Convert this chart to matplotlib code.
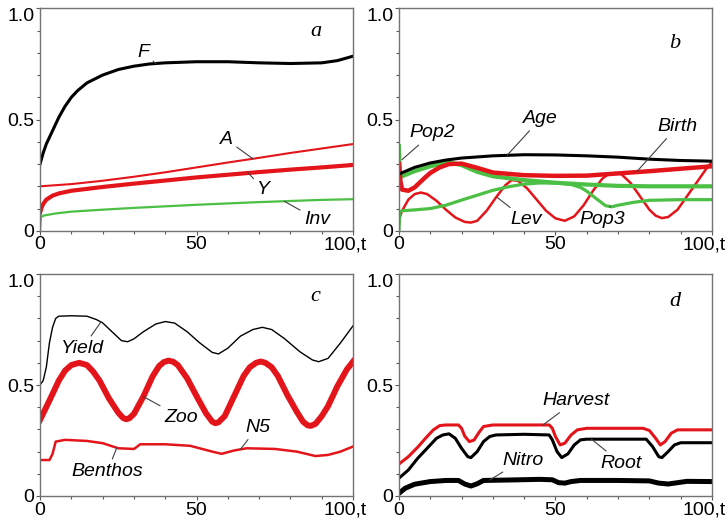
"""
Four-panel model output: a) F, A, Y, Inv; b) population; c) plankton; d) crop.
"""
import matplotlib.pyplot as plt
from matplotlib.ticker import MultipleLocator
from matplotlib.transforms import ScaledTranslation

plt.rcParams['font.family'] = ['Liberation Sans', 'DejaVu Sans']

RED = '#e3151b'
GREEN = '#4cbf45'
BLACK = '#000000'

# ---- panel a ----
t_F = [0, 1, 2, 4, 6, 8, 10, 12, 15, 20, 25, 30, 35, 40, 50, 60, 70, 80, 90, 95, 100]
F = [0.30, 0.35, 0.39, 0.45, 0.51, 0.56, 0.60, 0.63, 0.665, 0.70, 0.725, 0.74, 0.75, 0.755,
     0.76, 0.76, 0.755, 0.752, 0.755, 0.765, 0.785]
t_A = [0, 10, 20, 30, 40, 50, 60, 70, 80, 90, 100]
A = [0.20, 0.21, 0.225, 0.243, 0.263, 0.285, 0.307, 0.328, 0.35, 0.37, 0.39]
t_Y = [0, 0.5, 1, 2, 4, 6, 10, 20, 30, 40, 50, 60, 70, 80, 90, 100]
Y = [0.08, 0.105, 0.12, 0.14, 0.158, 0.168, 0.18, 0.197, 0.212, 0.226, 0.24, 0.252, 0.264,
     0.275, 0.285, 0.296]
t_Inv = [0, 0.3, 1, 5, 10, 20, 30, 40, 50, 60, 70, 80, 90, 100]
Inv = [0, 0.06, 0.068, 0.078, 0.086, 0.095, 0.103, 0.11, 0.117, 0.123, 0.129, 0.134, 0.139, 0.142]

# ---- panel b ----
t_Age = [0, 5, 10, 15, 20, 30, 40, 50, 60, 70, 80, 90, 100]
Age = [0.255, 0.285, 0.305, 0.318, 0.327, 0.337, 0.342, 0.341, 0.337, 0.331, 0.322, 0.316, 0.313]
t_Pop2 = [0, 0.3, 1, 5, 10, 15, 17, 20, 25, 30, 40, 50, 60, 70, 80, 90, 100]
Pop2 = [0.38, 0.26, 0.245, 0.268, 0.29, 0.305, 0.305, 0.295, 0.265, 0.245, 0.228, 0.216, 0.208,
        0.202, 0.2, 0.2, 0.2]
t_Pop3 = [0, 0.3, 1, 5, 10, 15, 20, 25, 30, 35, 40, 45, 50, 55, 58, 60, 63, 66, 68, 70, 75,
          80, 90, 100]
Pop3 = [0, 0.085, 0.09, 0.094, 0.1, 0.115, 0.138, 0.16, 0.182, 0.198, 0.21, 0.215, 0.215, 0.208,
        0.195, 0.178, 0.145, 0.113, 0.108, 0.115, 0.128, 0.137, 0.14, 0.14]
t_Birth = [0, 0.5, 1, 3, 5, 8, 10, 13, 16, 20, 25, 30, 40, 50, 60, 70, 80, 90, 100]
Birth = [0.30, 0.22, 0.185, 0.18, 0.195, 0.235, 0.26, 0.285, 0.30, 0.302, 0.283, 0.262, 0.25,
         0.247, 0.248, 0.258, 0.268, 0.279, 0.29]
t_Lev = [0, 1, 3, 5, 7, 9, 12, 15, 18, 21, 23, 25, 28, 31, 34, 36, 38, 41, 44, 47, 50, 53, 56,
         59, 62, 65, 67, 69, 71, 74, 77, 80, 82, 84, 86, 89, 92, 95, 98, 100]
Lev = [0.05, 0.09, 0.14, 0.165, 0.172, 0.165, 0.135, 0.095, 0.06, 0.04, 0.037, 0.045, 0.09,
       0.15, 0.205, 0.228, 0.225, 0.19, 0.14, 0.09, 0.056, 0.045, 0.065, 0.115, 0.18, 0.235,
       0.255, 0.26, 0.255, 0.215, 0.155, 0.095, 0.068, 0.057, 0.062, 0.095, 0.155, 0.215,
       0.275, 0.31]

# ---- panel c ----
t_Yield = [0, 1, 2, 3, 4, 5, 6, 10, 15, 18, 20, 23, 26, 28, 30, 33, 37, 40, 43, 47, 51, 55, 57,
           60, 64, 68, 71, 74, 78, 83, 87, 89, 92, 96, 100]
Yield = [0.50, 0.52, 0.58, 0.69, 0.76, 0.80, 0.81, 0.812, 0.81, 0.795, 0.78, 0.74, 0.70, 0.695,
         0.708, 0.74, 0.775, 0.786, 0.779, 0.74, 0.69, 0.647, 0.64, 0.666, 0.72, 0.75, 0.76,
         0.75, 0.71, 0.65, 0.613, 0.605, 0.62, 0.69, 0.767]
t_Zoo = [0, 3, 6, 8, 10, 12.5, 15, 17, 19, 22, 25, 26.5, 27.5, 28.5, 30, 33, 36, 38, 39.5, 41,
         42.5, 44, 47, 50, 53, 55, 56, 57, 59, 62, 65, 67, 69, 70.5, 72, 74, 76, 79, 82, 84,
         85.5, 86.5, 88, 90, 92, 95, 98, 100]
Zoo = [0.343, 0.43, 0.52, 0.565, 0.59, 0.60, 0.59, 0.56, 0.52, 0.44, 0.375, 0.352, 0.346, 0.35,
       0.37, 0.448, 0.54, 0.585, 0.603, 0.61, 0.605, 0.59, 0.53, 0.45, 0.373, 0.335, 0.328,
       0.332, 0.36, 0.45, 0.54, 0.58, 0.60, 0.606, 0.60, 0.58, 0.54, 0.455, 0.38, 0.335, 0.318,
       0.316, 0.325, 0.36, 0.405, 0.495, 0.57, 0.606]
t_Benthos = [0, 3, 4, 5, 8, 15, 20, 25, 30, 31, 32, 40, 48, 55, 58, 62, 66, 75, 82, 88, 92, 96, 100]
Benthos = [0.162, 0.162, 0.19, 0.245, 0.253, 0.248, 0.238, 0.215, 0.212, 0.222, 0.233, 0.233,
           0.226, 0.2, 0.19, 0.205, 0.215, 0.212, 0.2, 0.18, 0.185, 0.2, 0.223]

# ---- panel d ----
t_Harvest = [0, 3, 6, 9, 11, 13, 15, 19, 20, 21, 22.5, 24, 25.5, 27, 30, 48, 49, 50, 51.5, 53,
             55, 57, 60, 78, 80, 82, 83.5, 85, 87, 89, 100]
Harvest = [0.144, 0.177, 0.22, 0.268, 0.298, 0.317, 0.32, 0.32, 0.305, 0.27, 0.245, 0.252, 0.285,
           0.313, 0.32, 0.32, 0.305, 0.268, 0.23, 0.238, 0.275, 0.298, 0.305, 0.305, 0.295,
           0.26, 0.23, 0.245, 0.283, 0.298, 0.298]
t_Root = [0, 3, 6, 9, 12, 14, 16, 18, 20, 22, 23, 25, 27, 29, 31, 40, 48, 49, 50.5, 52, 54, 56,
          58, 60, 79, 81, 83, 84, 86, 88, 90, 100]
Root = [0.08, 0.117, 0.17, 0.215, 0.26, 0.275, 0.28, 0.26, 0.215, 0.177, 0.173, 0.2, 0.245,
        0.268, 0.275, 0.278, 0.275, 0.253, 0.2, 0.173, 0.19, 0.23, 0.253, 0.256, 0.256, 0.223,
        0.177, 0.173, 0.2, 0.23, 0.24, 0.24]
t_Nitro = [0, 2, 5, 10, 15, 19, 21, 23, 25, 27, 35, 45, 49, 51, 53, 55, 58, 70, 80, 83, 86, 89,
           92, 100]
Nitro = [0.012, 0.035, 0.053, 0.065, 0.07, 0.07, 0.054, 0.045, 0.055, 0.07, 0.072, 0.075, 0.073,
         0.06, 0.058, 0.065, 0.07, 0.07, 0.068, 0.058, 0.054, 0.06, 0.066, 0.065]

X_TICKS = [0, 50, 100]
X_TICKLABELS = ['0', '50', '100,t']
Y_TICKS = [0, 0.5, 1.0]
Y_TICKLABELS = ['0', '0.5', '1.0']


def setup(ax, letter, letter_y):
    ax.set_xlim(0, 100)
    ax.set_ylim(0, 1)
    ax.set_xticks(X_TICKS, X_TICKLABELS)
    ax.set_yticks(Y_TICKS, Y_TICKLABELS)
    ax.xaxis.set_minor_locator(MultipleLocator(10))
    ax.yaxis.set_minor_locator(MultipleLocator(0.1))
    ax.tick_params(which='both', direction='out', color='0.35', labelsize=14,
                   pad=1, length=3, width=0.8)
    ax.tick_params(which='minor', length=2)
    ax.get_yticklabels()[-1].set_va('top')
    last = ax.get_xticklabels()[-1]
    last.set_transform(last.get_transform() + ScaledTranslation(-6 / 72, 0, fig.dpi_scale_trans))
    for s in ax.spines.values():
        s.set_color('0.45')
        s.set_linewidth(1.0)
    ax.text(88, letter_y, letter, family='Liberation Serif', style='italic',
            fontsize=16, ha='center', va='center')


def label(ax, txt, xy_text, xy_curve):
    ax.annotate(txt, xy=xy_curve, xytext=xy_text, ha='center', va='center',
                family='Liberation Sans', style='italic', fontsize=14,
                arrowprops=dict(arrowstyle='-', color='0.25', lw=0.8,
                                shrinkA=1, shrinkB=0))


fig = plt.figure(figsize=(7.28, 5.21), dpi=100)
ax_a = fig.add_axes([0.055, 0.557, 0.430, 0.427])
ax_b = fig.add_axes([0.548, 0.557, 0.430, 0.427])
ax_c = fig.add_axes([0.055, 0.048, 0.430, 0.426])
ax_d = fig.add_axes([0.548, 0.048, 0.430, 0.426])

# a
ax_a.plot(t_F, F, color=BLACK, lw=2.2)
ax_a.plot(t_A, A, color=RED, lw=1.5)
ax_a.plot(t_Y, Y, color=RED, lw=3.0)
ax_a.plot(t_Inv, Inv, color=GREEN, lw=1.6)
setup(ax_a, 'a', 0.895)
label(ax_a, 'F', (33, 0.80), (37, 0.752))
label(ax_a, 'A', (59.5, 0.41), (68, 0.324))
label(ax_a, 'Y', (71.5, 0.185), (66.5, 0.26))
label(ax_a, 'Inv', (88.5, 0.05), (78, 0.133))

# b
ax_b.plot(t_Lev, Lev, color=RED, lw=1.8)
ax_b.plot(t_Pop3, Pop3, color=GREEN, lw=2.3)
ax_b.plot(t_Pop2, Pop2, color=GREEN, lw=3.0)
ax_b.plot(t_Birth, Birth, color=RED, lw=3.2)
ax_b.plot(t_Age, Age, color=BLACK, lw=2.2)
setup(ax_b, 'b', 0.84)
label(ax_b, 'Pop2', (10.7, 0.44), (1, 0.32))
label(ax_b, 'Age', (45.3, 0.505), (34.6, 0.34))
label(ax_b, 'Birth', (89, 0.47), (76, 0.266))
label(ax_b, 'Lev', (40.5, 0.05), (31.4, 0.15))
label(ax_b, 'Pop3', (65, 0.05), (67.5, 0.11))

# c
ax_c.plot(t_Yield, Yield, color=BLACK, lw=1.0)
ax_c.plot(t_Zoo, Zoo, color=RED, lw=4.3)
ax_c.plot(t_Benthos, Benthos, color=RED, lw=1.8)
setup(ax_c, 'c', 0.9)
label(ax_c, 'Yield', (13.5, 0.665), (19.5, 0.785))
label(ax_c, 'Zoo', (45, 0.355), (33, 0.448))
label(ax_c, 'N5', (69.5, 0.31), (64, 0.21))
label(ax_c, 'Benthos', (21.5, 0.11), (24.5, 0.217))

# d
ax_d.plot(t_Harvest, Harvest, color=RED, lw=2.2)
ax_d.plot(t_Root, Root, color=BLACK, lw=2.2)
ax_d.plot(t_Nitro, Nitro, color=BLACK, lw=3.6)
setup(ax_d, 'd', 0.875)
label(ax_d, 'Harvest', (56.5, 0.43), (46, 0.32))
label(ax_d, 'Root', (71, 0.148), (61.5, 0.256))
label(ax_d, 'Nitro', (39.5, 0.162), (29, 0.072))

fig.savefig('out.png', dpi=100)
